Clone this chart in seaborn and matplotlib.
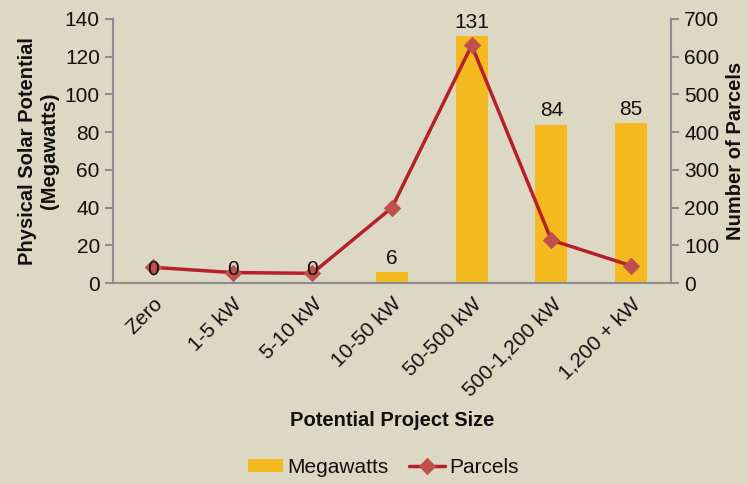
import numpy as np
import pandas as pd
import matplotlib
matplotlib.use("Agg")
import matplotlib.pyplot as plt
import seaborn as sns
from matplotlib.ticker import FixedLocator

# data
sizes = ["Zero", "1-5 kW", "5-10 kW", "10-50 kW", "50-500 kW", "500-1,200 kW", "1,200 + kW"]
megawatts = [0, 0, 0, 6, 131, 84, 85]
parcels = [42, 28, 26, 200, 630, 114, 46]

bg = "#ddd8c4"
bar_col = "#f5ba1f"
line_col = "#b5202a"
mark_col = "#c0504d"
axis_col = "#8c8c8c"
txt = "#111111"

sns.set_style("white")
plt.rcParams["font.family"] = ["Liberation Sans", "DejaVu Sans"]
plt.rcParams["text.color"] = txt
plt.rcParams["axes.labelcolor"] = txt
plt.rcParams["xtick.color"] = txt
plt.rcParams["ytick.color"] = txt

df = pd.DataFrame({"size": sizes, "mw": megawatts, "parcels": parcels})

fig = plt.figure(figsize=(7.48, 4.84), dpi=100, facecolor=bg)
ax = fig.add_axes([0.151, 0.415, 0.746, 0.546])
ax.set_facecolor(bg)

sns.barplot(data=df, x="size", y="mw", color=bar_col, width=0.4,
            saturation=1, ax=ax, label="Megawatts", linewidth=0, edgecolor="none")
if ax.legend_ is not None:
    ax.legend_.remove()

ax.set_ylim(0, 140)
ax.set_yticks(range(0, 141, 20))
ax.set_xlim(-0.5, len(sizes) - 0.5)
ax.set_xlabel("Potential Project Size", fontsize=14.5, fontweight="bold", labelpad=8)
ax.set_ylabel("Physical Solar Potential\n(Megawatts)", fontsize=14.5, fontweight="bold", labelpad=4)

ax2 = ax.twinx()
sns.lineplot(x=np.arange(len(sizes)), y=parcels, ax=ax2, color=line_col, linewidth=2.5,
             marker="D", markersize=8, markerfacecolor=mark_col, markeredgecolor=mark_col,
             label="Parcels", legend=False)
ax2.set_ylim(0, 700)
ax2.set_yticks(range(0, 701, 100))
ax2.set_ylabel("Number of Parcels", fontsize=14.5, fontweight="bold", labelpad=5)

# value labels above bars, drawn on top of the line
for i, v in enumerate(megawatts):
    ax2.annotate(str(v), xy=(i, v), xycoords=ax.transData, xytext=(0, 3),
                 textcoords="offset points", ha="center", va="bottom",
                 fontsize=15, color=txt, zorder=5)

# excel-style category ticks between groups
ax.set_xticks(range(len(sizes)))
ax.set_xticklabels(sizes, rotation=45, ha="right", rotation_mode="anchor", fontsize=15)
ax.xaxis.set_minor_locator(FixedLocator(np.arange(-0.5, len(sizes), 1)))
ax.tick_params(axis="x", which="major", length=0, pad=8)
ax.tick_params(axis="x", which="minor", length=6, color=axis_col, width=1.5)
ax.tick_params(axis="y", length=6, color=axis_col, width=1.5, labelsize=15, left=True)
ax2.tick_params(axis="y", length=6, color=axis_col, width=1.5, labelsize=15, right=True)

for a in (ax, ax2):
    a.spines["top"].set_visible(False)
    for s in ("left", "right", "bottom"):
        a.spines[s].set_color(axis_col)
        a.spines[s].set_linewidth(1.5)
ax.spines["right"].set_visible(False)
ax2.spines["left"].set_visible(False)
ax2.spines["bottom"].set_visible(False)

h1, l1 = ax.get_legend_handles_labels()
h2, l2 = ax2.get_legend_handles_labels()
fig.legend(h1 + h2, l1 + l2, loc="center", bbox_to_anchor=(0.512, 0.034), ncol=2,
           frameon=False, fontsize=15, handlelength=1.7, handleheight=0.55,
           columnspacing=1.0, handletextpad=0.2)

fig.savefig("out.png", dpi=100, facecolor=bg)
